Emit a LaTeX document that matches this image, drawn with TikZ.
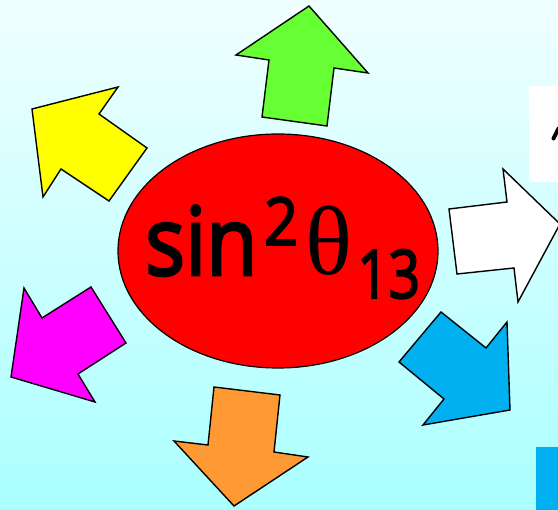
\documentclass[tikz,border=0pt]{standalone}
\usepackage{fontspec}
\usepackage{graphicx}
\setmainfont{Open Sans}
\newfontfamily\comicfont[FakeBold=3]{Open Sans}
\newfontfamily\thetafont{Liberation Serif}
\usetikzlibrary{shapes.geometric}
\definecolor{bgtop}{RGB}{240,255,255}
\definecolor{bgbot}{RGB}{170,255,255}
\definecolor{arrgreen}{RGB}{102,255,51}
\definecolor{arryellow}{RGB}{255,255,0}
\definecolor{arrblue}{RGB}{0,176,240}
\definecolor{arrorange}{RGB}{255,153,51}
\definecolor{arrmagenta}{RGB}{255,0,255}
\begin{document}
\begin{tikzpicture}[x=1pt,y=-1pt,
  arrowshape/.style={draw=black,line width=1.4pt,line join=miter},
  txt/.style={anchor=base west,inner sep=0pt,text=black}]
\useasboundingbox (0,0) rectangle (558,510);
\clip (0,0) rectangle (558,510);
\shade[top color=bgtop,bottom color=bgbot] (0,0) rectangle (558,510);
% side panels
\fill[white] (529,86) rectangle (560,182);
\draw[line width=4pt,line cap=round] (553.5,138.5) -- (558.5,128.5);
\fill[arrblue] (536,447) rectangle (560,512);
% arrows
\draw[arrowshape,fill=arrgreen] (309,6) -- (368,73) -- (334,68) -- (327,126) -- (262,117) -- (269,60) -- (236,55) -- cycle;
\draw[arrowshape,fill=arryellow] (32,109) -- (118,87) -- (99,114) -- (147,148) -- (109,201) -- (61,169) -- (43,197) -- cycle;
\draw[arrowshape,fill=white] (449,209) -- (507,202) -- (503,169) -- (560,224) -- (518,302) -- (514,268) -- (457,274) -- cycle;
\draw[arrowshape,fill=arrblue] (399,362) -- (441,312) -- (486,348) -- (507,322) -- (510,410) -- (423,425) -- (444,399) -- cycle;
\draw[arrowshape,fill=arrorange] (214,387) -- (280,395) -- (274,452) -- (308,457) -- (234,506) -- (174,441) -- (208,445) -- cycle;
\draw[arrowshape,fill=arrmagenta] (24,288) -- (42,318) -- (91,287) -- (126,343) -- (78,374) -- (95,402) -- (11,377) -- cycle;
% central ellipse
\node[ellipse,draw=black,line width=1.2pt,fill=red,minimum width=320pt,minimum height=234pt,inner sep=0pt] (c) at (278,251) {};
\node[txt,font=\comicfont\fontsize{95}{95}\selectfont] (sin) at (145,275) {\scalebox{0.88}[1]{sin}};
\node[txt,font=\comicfont\fontsize{66}{66}\selectfont] (sq) at (264,245) {\scalebox{0.9}[1]{2}};
\node[txt,font=\thetafont\fontsize{98}{98}\selectfont] (th) at (305,275) {θ};
\node[txt,font=\comicfont\fontsize{67}{67}\selectfont] (idx) at (357,298) {\scalebox{0.82}[1]{13}};
\end{tikzpicture}
\end{document}
